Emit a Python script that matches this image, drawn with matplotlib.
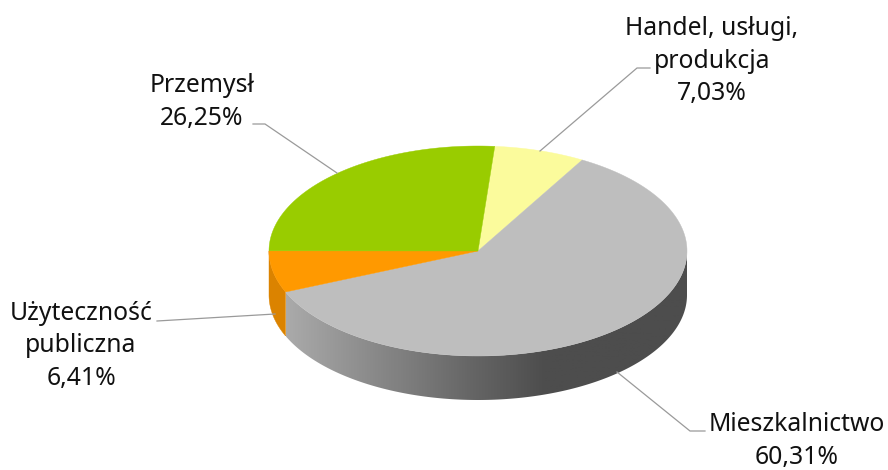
#
# plot.py - 3D look pie chart, drawn by hand on a pixel-sized axes
#
import numpy as np
import matplotlib
matplotlib.use("Agg")
import matplotlib.pyplot as plt
from matplotlib.colors import LinearSegmentedColormap
from matplotlib.patches import Polygon

# shares, clockwise from the top start angle
categories = ["Handel, usługi,\nprodukcja", "Mieszkalnictwo", "Użyteczność\npubliczna", "Przemysł"]
shares = [7.03, 60.31, 6.41, 26.25]
share_labels = ["7,03%", "60,31%", "6,41%", "26,25%"]
top_colors = ["#FBFB9C", "#BEBEBE", "#FF9900", "#99CC00"]
side_colors = [None, None, "#DB8300", None]

# label centre and leader line of each slice (same order)
label_pos = [(712, 61), (797, 441), (81, 346), (202, 102)]
leaders = [
    [(650, 68), (637, 68), (540, 151)],
    [(705, 431), (690, 431), (617, 372)],
    [(157, 321), (275, 314)],
    [(253, 124), (265, 124), (337, 173)],
]

# pie geometry in pixels
cx, cy = 478, 251
rx, ry = 209, 105
depth = 44
start_angle = 4.6

plt.rcParams["font.family"] = ["Noto Sans", "DejaVu Sans"]
fig = plt.figure(figsize=(8.88, 4.7), dpi=100)
ax = fig.add_axes([0, 0, 1, 1])
ax.set_xlim(0, 888)
ax.set_ylim(470, 0)
ax.axis("off")


def rim(a0, a1, n=200):
    t = np.radians(np.linspace(a0, a1, n))
    return cx + rx * np.sin(t), cy - ry * np.cos(t)


# slice angles from the shares
edges = start_angle + 360 * np.concatenate([[0], np.cumsum(shares)]) / sum(shares)

# walls first, only the front half (90-270 deg) shows
grey = LinearSegmentedColormap.from_list(
    "wall", [(0, "#AAAAAA"), (0.71, "#666666"), (1, "#4D4D4D")]
)
for i in range(len(shares)):
    a0, a1 = max(edges[i], 90), min(edges[i + 1], 270)
    if a1 <= a0:
        continue
    x, y = rim(a0, a1)
    pts = np.vstack([np.c_[x, y], np.c_[x[::-1], y[::-1] + depth]])
    if side_colors[i] is None:
        poly = Polygon(pts, closed=True, fc="none", ec="none")
        ax.add_patch(poly)
        grad = np.clip((np.linspace(286, 688, 402) - 286) / (545 - 286), 0, 1)
        im = ax.imshow(grad[None, :], extent=(286, 688, 420, 240), cmap=grey,
                       vmin=0, vmax=1, aspect="auto", zorder=1)
        im.set_clip_path(poly)
    else:
        ax.add_patch(Polygon(pts, closed=True, fc=side_colors[i], ec=side_colors[i], lw=0.3, zorder=1))

# top faces
for i in range(len(shares)):
    x, y = rim(edges[i], edges[i + 1])
    pts = np.vstack([[cx, cy], np.c_[x, y]])
    ax.add_patch(Polygon(pts, closed=True, fc=top_colors[i], ec=top_colors[i], lw=0.3, zorder=2))

# restore view limits, imshow changes them
ax.set_xlim(0, 888)
ax.set_ylim(470, 0)

for name, val, pos, line in zip(categories, share_labels, label_pos, leaders):
    xs, ys = zip(*line)
    ax.plot(xs, ys, color="#9A9A9A", lw=0.9, zorder=3, solid_joinstyle="miter")
    ax.text(pos[0], pos[1], name + "\n" + val, ha="center", va="center",
            fontsize=17.8, color="#111111", linespacing=1.42, zorder=4)

fig.savefig("out.png", dpi=100)
